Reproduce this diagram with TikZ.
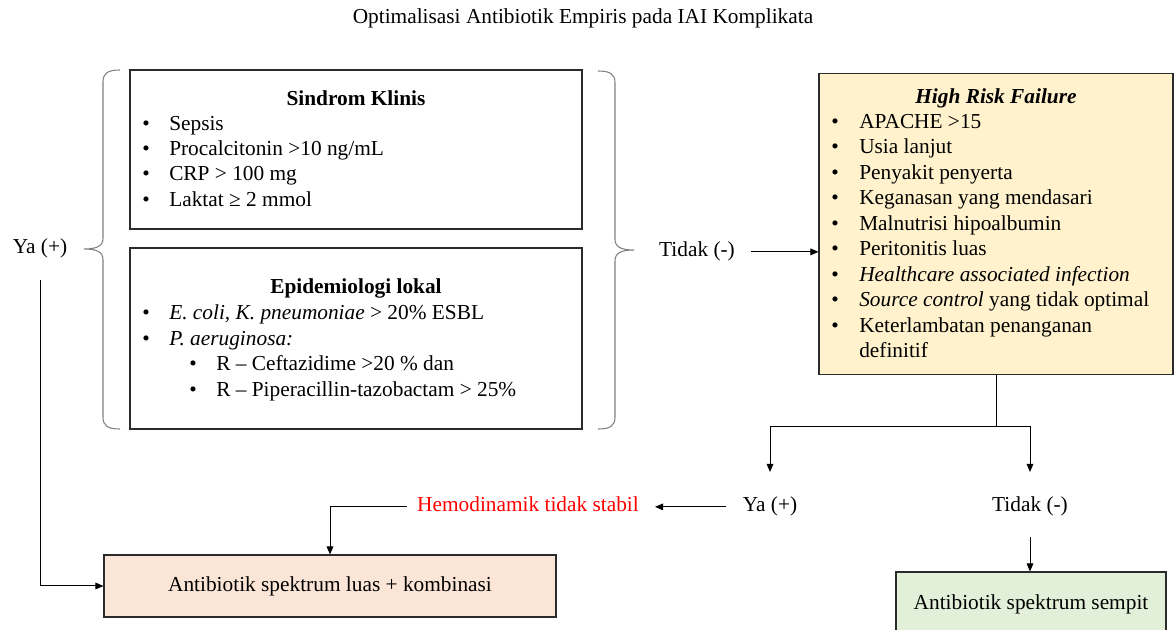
\documentclass[tikz,border=0pt]{standalone}
\usepackage{fontspec}
\setmainfont{Liberation Serif}
\usetikzlibrary{arrows.meta,calc}
\definecolor{boxline}{HTML}{2B2B2B}
\definecolor{bracegray}{HTML}{808080}
\definecolor{riskfill}{HTML}{FFF2CC}
\definecolor{broadfill}{HTML}{FBE5D6}
\definecolor{narrowfill}{HTML}{E2F0D9}
\definecolor{alertred}{HTML}{FF0000}

% bullet item: name, bullet x, text x, baseline y, text
\newcommand\bulitem[5]{%
  \node[dot] (#1b) at (#2,#4) {•};
  \node[itm] (#1) at (#3,#4) {#5};}

\begin{document}
\begin{tikzpicture}[x=0.75pt,y=-0.75pt,
  every node/.style={font=\fontsize{16}{19}\selectfont, inner sep=0pt},
  panel/.style={draw=boxline, line width=0.8pt, inner sep=0pt},
  lbl/.style={anchor=base},
  itm/.style={anchor=base west},
  dot/.style={anchor=base},
  arr/.style={-{Triangle[length=6pt,width=5pt]}, line width=0.75pt},
  link/.style={line width=0.75pt},
  brace/.style={draw=bracegray, line width=0.8pt}]
\useasboundingbox (0,0) rectangle (1175,630);

% title
\node[lbl] (title) at (583,24) {Optimalisasi Antibiotik Empiris pada IAI Komplikata};

% criteria panels
\node[panel, minimum width=339pt, minimum height=119.25pt] (sk) at (356,149.5) {};
\node[lbl] (skt) at (356,105.5) {\textbf{Sindrom Klinis}};
\bulitem{sk1}{146}{169}{131}{Sepsis}
\bulitem{sk2}{146}{169}{156}{Procalcitonin >10 ng/mL}
\bulitem{sk3}{146}{169}{181}{CRP > 100 mg}
\bulitem{sk4}{146}{169}{206.5}{Laktat ≥ 2 mmol}

\node[panel, minimum width=339pt, minimum height=135.75pt] (epi) at (356,338.5) {};
\node[lbl] (epit) at (356,294) {\textbf{Epidemiologi lokal}};
\bulitem{ep1}{146}{169}{320}{\textit{E. coli, K. pneumoniae} > 20\% ESBL}
\bulitem{ep2}{146}{169}{345.5}{\textit{P. aeruginosa:}}
\bulitem{ep3}{193}{216}{371}{R – Ceftazidime >20 \% dan}
\bulitem{ep4}{193}{216}{396.5}{R – Piperacillin-tazobactam > 25\%}

% braces around the criteria
\draw[brace] (120,70) .. controls (108,70) and (103,73) .. (103,82) -- (103,238)
  .. controls (103,246) and (97,249) .. (84,249)
  .. controls (97,249) and (103,252) .. (103,260) -- (103,417)
  .. controls (103,426) and (108,429) .. (120,429);
\draw[brace] (598,71) .. controls (610,71) and (615,74) .. (615,83) -- (615,239)
  .. controls (615,247) and (621,250) .. (634,250)
  .. controls (621,250) and (615,253) .. (615,261) -- (615,417)
  .. controls (615,426) and (610,429) .. (598,429);

\node[lbl] (yal) at (40,254) {Ya (+)};
\node[lbl] (tidakm) at (697,257) {Tidak (-)};

% high risk panel
\node[panel, fill=riskfill, minimum width=265.5pt, minimum height=225.75pt] (hr) at (996,224) {};
\node[lbl] (hrt) at (996,103.5) {\textbf{\textit{High Risk Failure}}};
\bulitem{hr1}{835}{859}{129}{APACHE >15}
\bulitem{hr2}{835}{859}{154}{Usia lanjut}
\bulitem{hr3}{835}{859}{179.5}{Penyakit penyerta}
\bulitem{hr4}{835}{859}{205}{Keganasan yang mendasari}
\bulitem{hr5}{835}{859}{230.5}{Malnutrisi hipoalbumin}
\bulitem{hr6}{835}{859}{256}{Peritonitis luas}
\bulitem{hr7}{835}{859}{281.5}{\textit{Healthcare associated infection}}
\bulitem{hr8}{835}{859}{307}{\textit{Source control} yang tidak optimal}
\bulitem{hr9}{835}{859}{332.5}{Keterlambatan penanganan}
\node[itm] (hr9b2) at (859,358) {definitif};

% outcome labels
\node[lbl] (yar) at (770,512) {Ya (+)};
\node[lbl] (tidr) at (1030,512) {Tidak (-)};
\node[lbl, text=alertred] (hemo) at (528,512) {Hemodinamik tidak stabil};

% therapy boxes
\node[panel, fill=broadfill, minimum width=339pt, minimum height=46.5pt] (luas) at (330,586)
  {Antibiotik spektrum luas + kombinasi};
\node[panel, fill=narrowfill, minimum width=202.5pt, minimum height=48pt] (sempit) at (1031,604)
  {Antibiotik spektrum sempit};

% connectors
\draw[arr, shorten <=15.75pt] (yal.south) |- (luas.west);
\draw[arr, shorten <=12pt] (tidakm.east) -- (tidakm.east -| hr.west);
\coordinate (split) at ($(hr.south)+(0,51)$);
\draw[link] (hr.south) -- (split);
\draw[arr, shorten >=18.75pt] (split) -| (yar.north);
\draw[arr, shorten >=18.75pt] (split) -| (tidr.north);
\draw[arr, shorten <=12.75pt, shorten >=12pt] (yar.west) -- (yar.west -| hemo.east);
\draw[arr, shorten <=7.5pt] (hemo.west |- yar.west) -| (luas.north);
\draw[arr, shorten <=15pt] (tidr.south) -- (tidr.south |- sempit.north);
\end{tikzpicture}
\end{document}
